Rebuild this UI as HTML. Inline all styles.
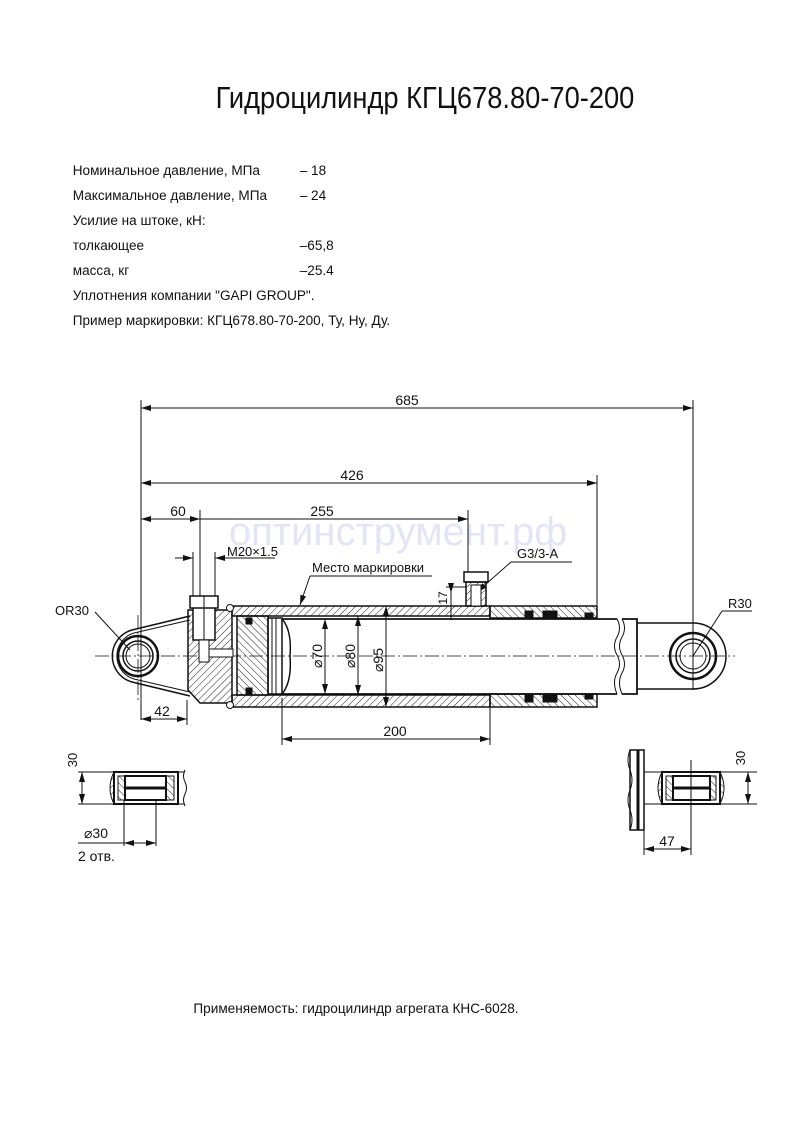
<!DOCTYPE html>
<html><head><meta charset="utf-8"><style>
html,body{margin:0;padding:0;background:#fff;}
svg{display:block;}
text{font-family:"Liberation Sans",sans-serif;fill:#111;}
</style></head><body>
<svg width="793" height="1123" viewBox="0 0 793 1123" xmlns="http://www.w3.org/2000/svg">
<defs>
<pattern id="h" width="5" height="5" patternUnits="userSpaceOnUse" patternTransform="rotate(45)"><line x1="0" y1="0" x2="0" y2="5" stroke="#222" stroke-width="1"/></pattern>
<pattern id="h2" width="5" height="5" patternUnits="userSpaceOnUse" patternTransform="rotate(-45)"><line x1="0" y1="0" x2="0" y2="5" stroke="#222" stroke-width="1"/></pattern>
<marker id="a" markerWidth="10" markerHeight="6" refX="10" refY="3" orient="auto-start-reverse" markerUnits="userSpaceOnUse"><path d="M0,0 L10,3 L0,6 z" fill="#111"/></marker>
</defs>

<text x="425" y="108" font-size="31" text-anchor="middle" transform="translate(425 0) scale(0.88 1) translate(-425 0)">Гидроцилиндр КГЦ678.80-70-200</text>

<g font-size="14" transform="scale(0.97 1)">
<text x="75" y="175">Номинальное давление, МПа</text><text x="309" y="175">– 18</text>
<text x="75" y="200">Максимальное давление, МПа</text><text x="309" y="200">– 24</text>
<text x="75" y="225">Усилие на штоке, кН:</text>
<text x="75" y="250">толкающее</text><text x="309" y="250">–65,8</text>
<text x="75" y="275">масса, кг</text><text x="309" y="275">–25.4</text>
<text x="75" y="300">Уплотнения компании "GAPI GROUP".</text>
<text x="75" y="325">Пример маркировки: КГЦ678.80-70-200, Ту, Ну, Ду.</text>
</g>

<text x="398" y="545" font-size="40" style="fill:#e3e5f7" text-anchor="middle">оптинструмент.рф</text>

<g stroke="#111" fill="none" stroke-width="1">
<line x1="141" y1="400" x2="141" y2="720"/>
<line x1="693" y1="400" x2="693" y2="690"/>
<line x1="597" y1="475" x2="597" y2="605"/>
<line x1="200" y1="510" x2="200" y2="600"/>
<line x1="468" y1="510" x2="468" y2="575"/>
<line x1="141" y1="408" x2="693" y2="408" marker-start="url(#a)" marker-end="url(#a)"/>
<line x1="141" y1="483" x2="597" y2="483" marker-start="url(#a)" marker-end="url(#a)"/>
<line x1="141" y1="519" x2="200" y2="519" marker-start="url(#a)" marker-end="url(#a)"/>
<line x1="200" y1="519" x2="468" y2="519" marker-end="url(#a)"/>
<line x1="193" y1="552" x2="193" y2="598"/><line x1="215" y1="552" x2="215" y2="598"/>
<line x1="175" y1="558" x2="193" y2="558" marker-end="url(#a)"/>
<line x1="275" y1="558" x2="215" y2="558" marker-end="url(#a)"/>
<line x1="310" y1="576" x2="432" y2="576"/>
<line x1="310" y1="576" x2="300" y2="605" marker-end="url(#a)"/>
<line x1="511" y1="562" x2="572" y2="562"/>
<line x1="511" y1="562" x2="477" y2="592" marker-end="url(#a)"/>
<line x1="451" y1="585" x2="451" y2="620"/>
<line x1="451" y1="585" x2="451" y2="593" marker-end="url(#a)"/>
<line x1="446" y1="587" x2="466" y2="587"/>
<line x1="722" y1="611" x2="752" y2="611"/>
<line x1="722" y1="611" x2="693" y2="656"/>
<line x1="95" y1="612" x2="130" y2="650"/>
<line x1="95" y1="656" x2="735" y2="656" stroke-dasharray="14 3 2 3" stroke-width="0.8"/>
<line x1="138" y1="615" x2="138" y2="700" stroke-dasharray="14 3 2 3" stroke-width="0.8"/>

<path d="M190,616 L132,630 A27,27 0 0 0 132,682 L190,696" stroke-width="1.5"/>
<path d="M190,620 L134,633 A24,24 0 0 0 134,679 L190,692" stroke-width="1"/>
<circle cx="138" cy="656" r="20" stroke-width="2.5"/>
<circle cx="138" cy="656" r="15" stroke-width="1.5"/>
<circle cx="138" cy="656" r="12" stroke-width="1"/>

<path d="M188,610 L232,610 L232,703 L200,703 L188,690 Z" fill="url(#h)" stroke-width="1.5"/>
<rect x="193" y="604" width="22" height="36" fill="#fff" stroke-width="1.5"/>
<rect x="190" y="596" width="28" height="12" fill="#fff" stroke-width="1.5"/>
<line x1="204" y1="596" x2="204" y2="640"/>
<rect x="199" y="640" width="10" height="22" fill="#fff"/>
<rect x="209" y="649" width="24" height="8" fill="#fff"/>

<rect x="232" y="606" width="258" height="10" fill="url(#h)" stroke-width="1.5"/>
<rect x="232" y="695" width="258" height="12" fill="url(#h)" stroke-width="1.5"/>
<circle cx="230" cy="608" r="3.5" fill="#fff"/><circle cx="230" cy="705" r="3.5" fill="#fff"/>
<rect x="490" y="606" width="107" height="12" fill="url(#h2)" stroke-width="1.5"/>
<rect x="490" y="694" width="107" height="13" fill="url(#h2)" stroke-width="1.5"/>
<rect x="237" y="616" width="31" height="79" fill="url(#h2)" stroke-width="1.5"/>
<rect x="268" y="618" width="14" height="76" stroke-width="1.5"/>
<line x1="272" y1="618" x2="272" y2="694"/><line x1="276" y1="618" x2="276" y2="694"/>
<path d="M282,619 Q292,630 290,656 Q292,682 282,694" stroke-width="1.5"/>
<path d="M282,619 L617,619 M282,694 L617,694" stroke-width="1.8"/>
<path d="M617,619 q5,9 0,18 q-5,9 0,18 q5,9 0,18 q-5,9 0,21"/>
<path d="M622,619 q5,9 0,18 q-5,9 0,18 q5,9 0,18 q-5,9 0,21"/>
<path d="M622,619 L637,619 L637,694 L622,694" stroke-width="1.8"/>
<path d="M637,623 L693,623 A30,30 0 1 1 693,689 L637,689" stroke-width="1.5"/>
<circle cx="693" cy="656" r="23" stroke-width="2.5"/>
<circle cx="693" cy="656" r="17" stroke-width="1.5"/>
<circle cx="693" cy="656" r="13" stroke-width="1"/>

<rect x="464" y="572" width="24" height="10" fill="#fff" stroke-width="1.5"/>
<rect x="466" y="582" width="20" height="24" fill="url(#h)" stroke-width="1.5"/>
<rect x="471" y="585" width="10" height="21" fill="#fff"/>
<rect x="246" y="618" width="6" height="6" fill="#111"/>
<rect x="246" y="688" width="6" height="6" fill="#111"/>
<rect x="525" y="611" width="8" height="8" fill="#111"/><rect x="543" y="611" width="14" height="8" fill="#111"/><rect x="585" y="613" width="8" height="5" fill="#111"/>
<rect x="525" y="694" width="8" height="8" fill="#111"/><rect x="543" y="694" width="14" height="8" fill="#111"/><rect x="585" y="694" width="8" height="5" fill="#111"/>

<line x1="325" y1="619" x2="325" y2="694" marker-start="url(#a)" marker-end="url(#a)"/>
<line x1="358" y1="616" x2="358" y2="695" marker-start="url(#a)" marker-end="url(#a)"/>
<line x1="386" y1="606" x2="386" y2="707" marker-start="url(#a)" marker-end="url(#a)"/>

<line x1="141" y1="719" x2="187" y2="719" marker-start="url(#a)" marker-end="url(#a)"/>
<line x1="187" y1="700" x2="187" y2="725"/>
<line x1="282" y1="698" x2="282" y2="745"/>
<line x1="490" y1="708" x2="490" y2="745"/>
<line x1="282" y1="739" x2="490" y2="739" marker-start="url(#a)" marker-end="url(#a)"/>

<line x1="78" y1="772" x2="185" y2="772"/><line x1="78" y1="804" x2="185" y2="804"/>
<line x1="82" y1="772" x2="82" y2="804" marker-start="url(#a)" marker-end="url(#a)"/>
<path d="M185,770 q-3,6 0,12 q3,6 0,12 q-3,6 0,12"/>
<path d="M114,772 Q106,788 114,804 Z" fill="url(#h)"/>
<rect x="114" y="772" width="64" height="32" stroke-width="2"/>
<rect x="118" y="776" width="56" height="24" fill="url(#h2)"/>
<rect x="125" y="776" width="41" height="24" fill="#fff" stroke-width="2"/>
<line x1="125" y1="788" x2="166" y2="788" stroke-width="3"/>
<line x1="124" y1="800" x2="124" y2="846"/><line x1="156" y1="800" x2="156" y2="846"/>
<line x1="78" y1="843" x2="124" y2="843"/>
<line x1="124" y1="843" x2="156" y2="843" marker-start="url(#a)" marker-end="url(#a)"/>

<path d="M630,750 q-4,10 0,20 q4,10 0,20 q-4,10 0,20 q4,10 0,20"/>
<rect x="630" y="750" width="14" height="80" fill="none" stroke-width="1.5"/>
<line x1="638" y1="750" x2="638" y2="830" stroke-width="3"/>
<line x1="644" y1="772" x2="757" y2="772"/><line x1="644" y1="804" x2="757" y2="804"/>
<line x1="748" y1="772" x2="748" y2="804" marker-start="url(#a)" marker-end="url(#a)"/>
<path d="M662,772 Q654,788 662,804 Z" fill="url(#h)"/>
<path d="M720,772 Q728,788 720,804 Z" fill="url(#h2)"/>
<rect x="662" y="772" width="58" height="32" stroke-width="2"/>
<rect x="666" y="776" width="50" height="24" fill="url(#h2)"/>
<rect x="673" y="776" width="37" height="24" fill="#fff" stroke-width="2"/>
<line x1="673" y1="788" x2="710" y2="788" stroke-width="3"/>
<line x1="644" y1="830" x2="644" y2="855"/><line x1="691" y1="760" x2="691" y2="855"/>
<line x1="644" y1="849" x2="691" y2="849" marker-start="url(#a)" marker-end="url(#a)"/>
</g>

<g font-size="14">
<text x="407" y="405" text-anchor="middle">685</text>
<text x="352" y="480" text-anchor="middle">426</text>
<text x="178" y="516" text-anchor="middle">60</text>
<text x="322" y="516" text-anchor="middle">255</text>
<text x="227" y="556" font-size="13">M20×1.5</text>
<text x="312" y="572" font-size="13">Место маркировки</text>
<text x="517" y="558" font-size="13">G3/3-A</text>
<text x="728" y="608" font-size="13">R30</text>
<text x="55" y="615" font-size="13">OR30</text>
<text x="162" y="716" text-anchor="middle">42</text>
<text x="395" y="736" text-anchor="middle">200</text>
<text x="84" y="838">⌀30</text>
<text x="78" y="861">2 отв.</text>
<text x="667" y="846" text-anchor="middle">47</text>
<text transform="translate(447 598) rotate(-90)" font-size="12" text-anchor="middle">17</text>
<text transform="translate(77 760) rotate(-90)" font-size="13" text-anchor="middle">30</text>
<text transform="translate(745 758) rotate(-90)" font-size="13" text-anchor="middle">30</text>
<text transform="translate(322 656) rotate(-90)" text-anchor="middle">⌀70</text>
<text transform="translate(355 656) rotate(-90)" text-anchor="middle">⌀80</text>
<text transform="translate(383 660) rotate(-90)" text-anchor="middle">⌀95</text>
<text x="356" y="1013" text-anchor="middle" font-size="13.6">Применяемость: гидроцилиндр агрегата КНС-6028.</text>
</g>
</svg>
</body></html>
